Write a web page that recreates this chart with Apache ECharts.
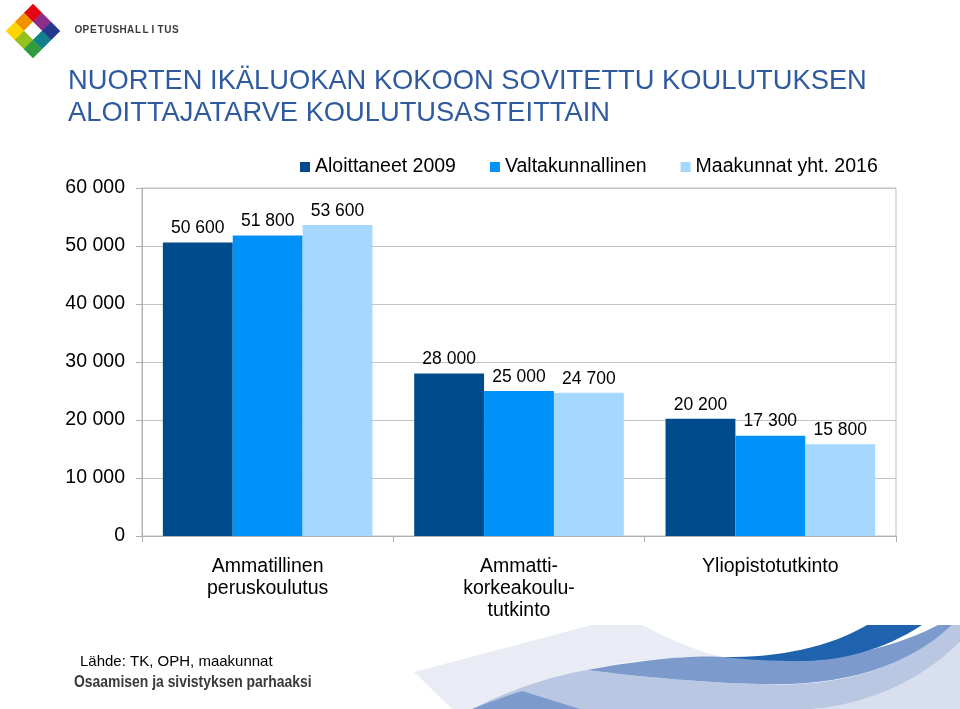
<!DOCTYPE html>
<html>
<head>
<meta charset="utf-8">
<script src="https://cdn.jsdelivr.net/npm/echarts@6/dist/echarts.min.js"></script>
<style>html,body{margin:0;padding:0;background:#fff}#c{width:960px;height:709px}</style>
</head>
<body>
<div id="c"></div>
<script>
const categories = ['Ammatillinen\nperuskoulutus', 'Ammatti-\nkorkeakoulu-\ntutkinto', 'Yliopistotutkinto'];
const seriesNames = ['Aloittaneet 2009', 'Valtakunnallinen', 'Maakunnat yht. 2016'];
const aloittaneet2009 = [50600, 28000, 20200];
const valtakunnallinen = [51800, 25000, 17300];
const maakunnat2016 = [53600, 24700, 15800];
const yTicks = [0, 10000, 20000, 30000, 40000, 50000, 60000];

const colors = ['#004B8C', '#0092F8', '#A6D7FF'];
const fmt = v => String(v).replace(/\B(?=(\d{3})+(?!\d))/g, ' ');
const FONT = 'Liberation Sans, Arial, sans-serif';

const chart = echarts.init(document.getElementById('c'));

// logo diamond cells
const logoColors = [
  ['#E30613', '#F39200', '#FFD500'],
  ['#8E2C8A', '#FFFFFF', '#95C11F'],
  ['#27388D', '#12808C', '#2E9C3F']
];
const top0 = [33, 4], d = 9;
const logo = [];
for (let a = 0; a < 3; a++) {
  for (let b = 0; b < 3; b++) {
    const P = (x, y) => [top0[0] + x * d - y * d, top0[1] + x * d + y * d];
    logo.push({
      type: 'polygon',
      shape: { points: [P(a, b), P(a + 1, b), P(a + 1, b + 1), P(a, b + 1)] },
      style: { fill: logoColors[a][b], stroke: logoColors[a][b], lineWidth: 0.5 },
      silent: true
    });
  }
}
const brand = 'OPETUSHALLITUS';
const brandEls = brand.split('').map((ch, i) => ({
  type: 'text', x: 78.5 + i * 7.45, y: 30,
  style: { text: ch, font: 'bold 10px ' + FONT, fill: '#3A3A3A', align: 'center', verticalAlign: 'middle' }, silent: true
}));

// decorative path -> sampled polygon
function pathToPoints(s) {
  const tok = s.match(/[MLQCZ]|-?\d+(\.\d+)?/g);
  const pts = []; let i = 0, cur = [0, 0], cmd = null;
  const num = () => parseFloat(tok[i++]);
  while (i < tok.length) {
    if (/[MLQCZ]/.test(tok[i])) cmd = tok[i++];
    if (cmd === 'Z') break;
    if (cmd === 'M' || cmd === 'L') { cur = [num(), num()]; pts.push(cur); }
    else if (cmd === 'Q') {
      const c1 = [num(), num()], e = [num(), num()], s0 = cur;
      for (let t = 1; t <= 16; t++) { const u = t / 16, v = 1 - u;
        pts.push([v*v*s0[0] + 2*v*u*c1[0] + u*u*e[0], v*v*s0[1] + 2*v*u*c1[1] + u*u*e[1]]); }
      cur = e;
    } else if (cmd === 'C') {
      const c1 = [num(), num()], c2 = [num(), num()], e = [num(), num()], s0 = cur;
      for (let t = 1; t <= 20; t++) { const u = t / 20, v = 1 - u;
        pts.push([v*v*v*s0[0] + 3*v*v*u*c1[0] + 3*v*u*u*c2[0] + u*u*u*e[0],
                  v*v*v*s0[1] + 3*v*v*u*c1[1] + 3*v*u*u*c2[1] + u*u*u*e[1]]); }
      cur = e;
    }
  }
  return pts;
}
const waves = [
  { p: 'M414,672 L592,625 L642,625 Q690,650 723,657 C680,656 630,660 587,670 Q520,686 472,709 L452,709 Z', c: '#E9ECF4' },
  { p: 'M472,709 Q530,680 587,670 Q680,682 760,684 Q880,690 952,625 L960,625 L960,642 Q900,702 813,709 Z', c: '#B9C7E3' },
  { p: 'M813,709 Q900,700 960,642 L960,709 Z', c: '#D8DFEE' },
  { p: 'M472,709 Q500,698 522,691 L580,709 Z', c: '#7C9BCC' },
  { p: 'M587,670 C640,660 690,655 723,657 L795,661 Q880,655 938,625 L952,625 Q885,688 760,684 Q680,682 587,670 Z', c: '#7C9BCC' },
  { p: 'M723,657 Q810,658 867,625 L922,625 Q865,662 795,661 Q760,661 723,657 Z', c: '#1F63AE' }
].map(w => ({ type: 'polygon', shape: { points: pathToPoints(w.p) }, style: { fill: w.c }, silent: true }));

const mkSeries = (name, data, i) => ({
  name, type: 'bar', data,
  barGap: '0%', barCategoryGap: '16.6%',
  itemStyle: { color: colors[i] },
  label: { show: true, position: 'top', distance: 5, formatter: p => fmt(p.value),
    fontFamily: FONT, fontSize: 17.5, color: '#000' }
});

chart.setOption({
  animation: false,
  textStyle: { fontFamily: FONT },
  grid: { left: 142, right: 64, top: 188, bottom: 173, show: true, borderColor: '#BFBFBF', borderWidth: 1, containLabel: false },
  legend: {
    top: 152, left: 295, itemWidth: 10, itemHeight: 10, itemGap: 34,
    icon: 'rect',
    textStyle: { fontFamily: FONT, fontSize: 19.5, color: '#000' },
    data: seriesNames
  },
  xAxis: {
    type: 'category', data: categories,
    axisLine: { lineStyle: { color: '#AFAFAF' } },
    axisTick: { show: true, length: 6, lineStyle: { color: '#AFAFAF' } },
    axisLabel: { fontFamily: FONT, fontSize: 19.5, color: '#000', margin: 20, lineHeight: 22 }
  },
  yAxis: {
    type: 'value', min: 0, max: 60000, interval: 10000,
    axisLine: { show: true, lineStyle: { color: '#AFAFAF' } },
    axisTick: { show: true, length: 6, lineStyle: { color: '#AFAFAF' } },
    splitLine: { lineStyle: { color: '#C4C4C4' } },
    axisLabel: { fontFamily: FONT, fontSize: 19.5, color: '#000', margin: 17,
      formatter: v => yTicks.includes(v) ? fmt(v) : '' }
  },
  series: [
    mkSeries(seriesNames[0], aloittaneet2009, 0),
    mkSeries(seriesNames[1], valtakunnallinen, 1),
    mkSeries(seriesNames[2], maakunnat2016, 2)
  ],
  graphic: [
    ...waves,
    ...logo,
    ...brandEls,
    { type: 'text', left: 68, top: 65, style: { text: 'NUORTEN IKÄLUOKAN KOKOON SOVITETTU KOULUTUKSEN\nALOITTAJATARVE KOULUTUSASTEITTAIN', font: '27.3px ' + FONT, fill: '#2F5AA0', lineHeight: 32 }, silent: true },
    { type: 'text', left: 80, top: 654, style: { text: 'Lähde: TK, OPH, maakunnat', font: '15px ' + FONT, fill: '#000' }, silent: true },
    { type: 'text', x: 74, y: 675, scaleX: 0.87, style: { text: 'Osaamisen ja sivistyksen parhaaksi', font: 'bold 16px ' + FONT, fill: '#3A3A3A' }, silent: true }
  ]
});
</script>
</body>
</html>
